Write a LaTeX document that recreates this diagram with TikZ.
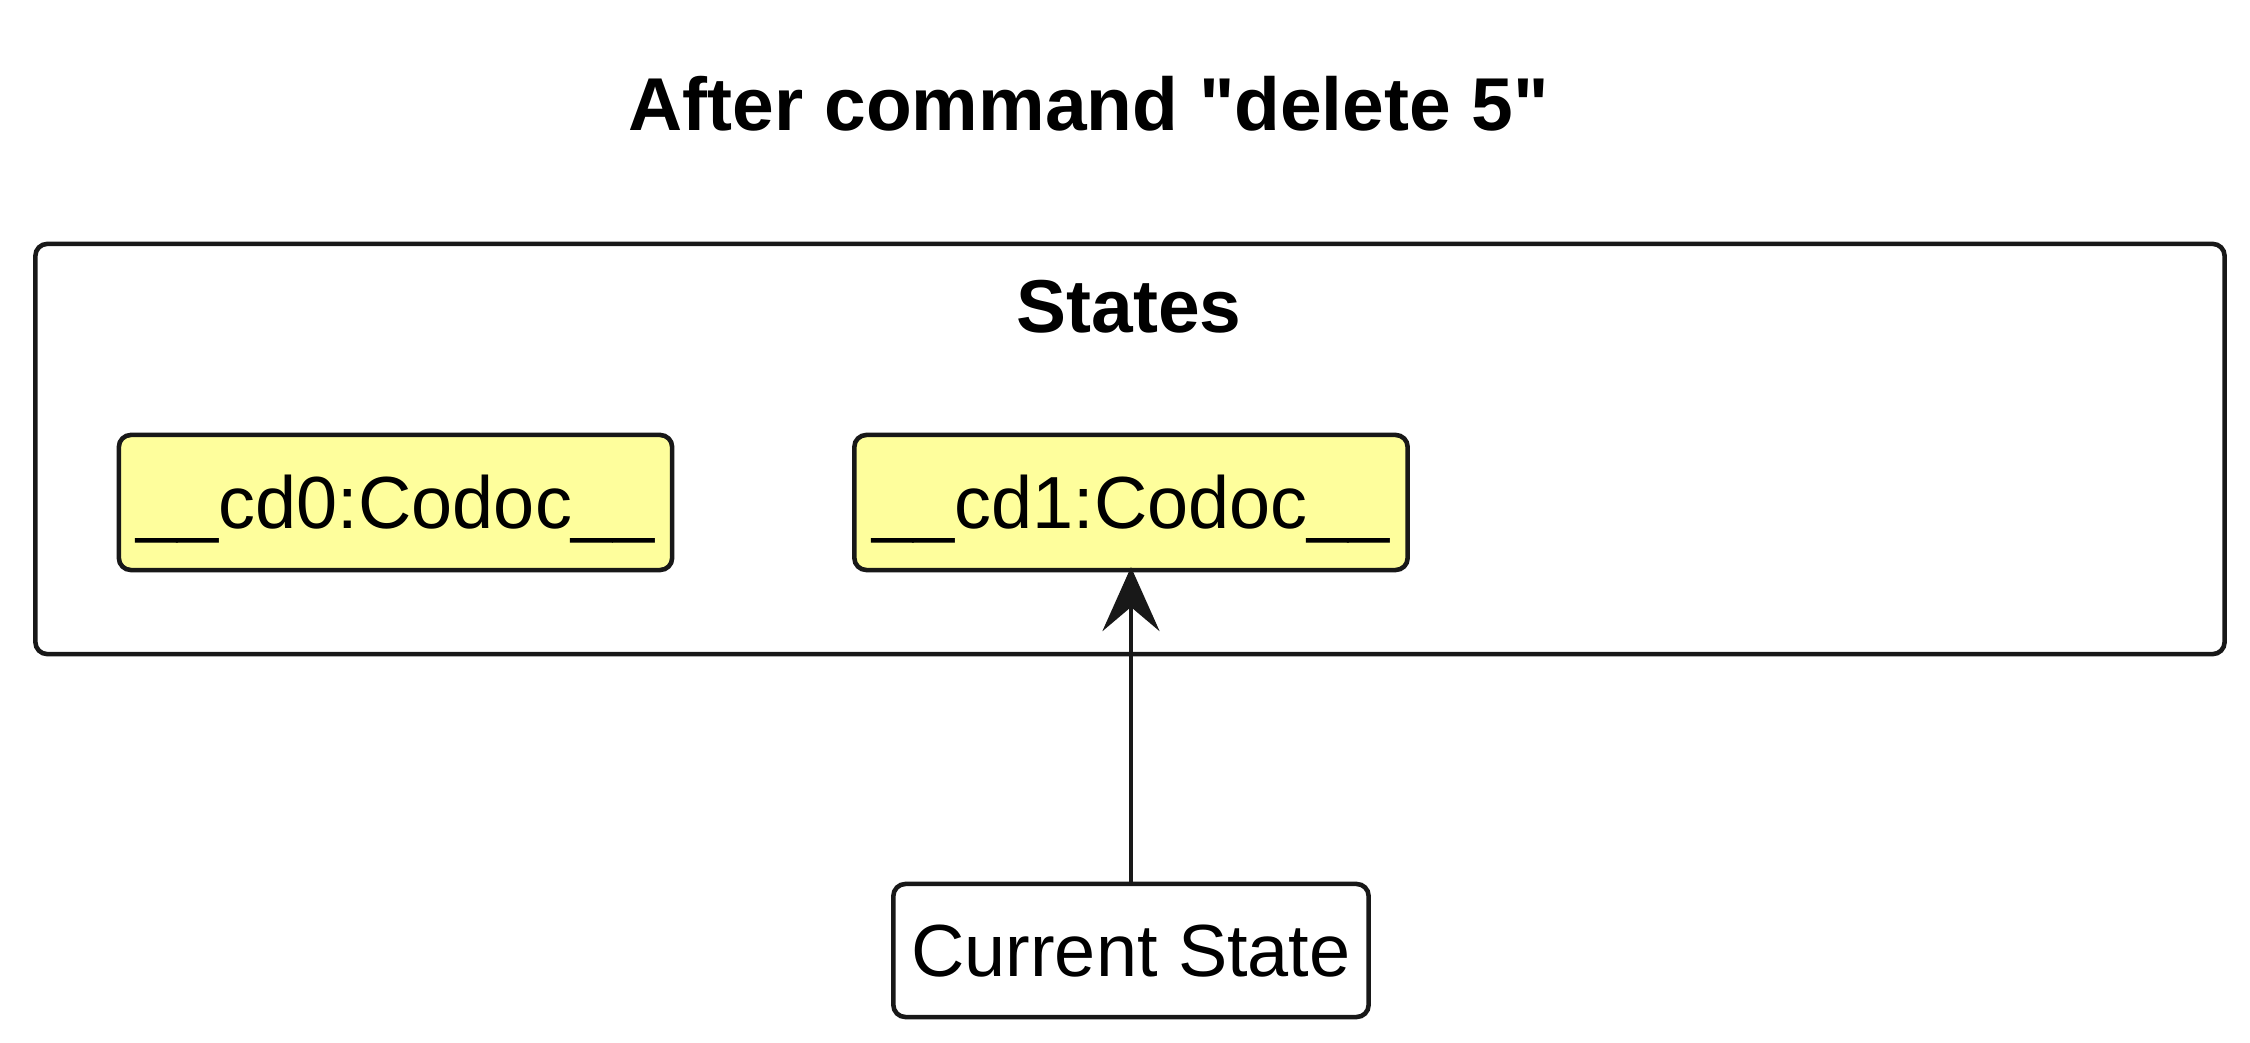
\documentclass[tikz,border=0pt]{standalone}
\usepackage{fontspec}
\setmainfont{Liberation Sans}
\usepackage{xcolor}
\usetikzlibrary{arrows.meta, positioning}

\definecolor{umlline}{HTML}{181818}
\definecolor{umlyellow}{HTML}{FEFE9C}

\begin{document}
\begin{tikzpicture}[
    x=0.01cm, y=-0.01cm,
    every node/.style={font=\fontsize{21}{25}\selectfont, inner sep=0pt},
    heading/.style={font=\fontsize{21.3}{25}\selectfont\bfseries, anchor=base},
    pkgbox/.style={draw=umlline, line width=1.3pt, rounded corners=0.12cm, minimum width=21.88cm, minimum height=4.10cm},
    obj/.style={draw=umlline, fill=umlyellow, line width=1.3pt, rounded corners=0.12cm, minimum width=5.53cm, minimum height=1.35cm, text height=0.62cm, text depth=0.11cm},
    plainbox/.style={obj, fill=white, minimum width=4.75cm, minimum height=1.33cm},
    arr/.style={-{Stealth[length=0.64cm, width=0.57cm, inset=0.24cm]}, draw=umlline, fill=umlline, line width=1.3pt, shorten >=-1.5pt},
  ]
  \useasboundingbox (0,0) rectangle (2250,1043);
  \node[heading] (title) at (1089,131) {After command \textquotedbl delete 5\textquotedbl};
  \node[pkgbox] (states) at (1130,449) {};
  \node[heading] (stateslbl) at (1129,333) {States};
  \node[obj] (cd0) at (395.5,502.5) {\_\_cd0:Codoc\_\_};
  \node[obj] (cd1) at (1131,502.5) {\_\_cd1:Codoc\_\_};
  \node[plainbox] (cur) at (1131,950.5) {Current State};
  \draw[arr] (cur) -- (cd1);
\end{tikzpicture}
\end{document}
